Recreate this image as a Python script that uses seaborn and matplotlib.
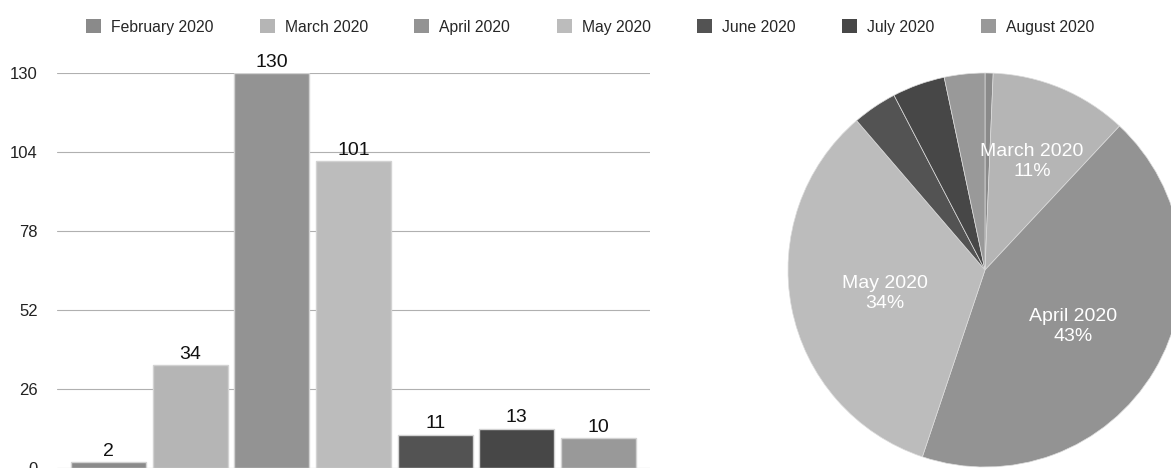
import matplotlib
matplotlib.use("Agg")
import matplotlib.pyplot as plt
from matplotlib.patches import Patch
import numpy as np
import pandas as pd
import seaborn as sns

# Monthly counts
months = ["February 2020", "March 2020", "April 2020", "May 2020",
          "June 2020", "July 2020", "August 2020"]
counts = [2, 34, 130, 101, 11, 13, 10]
colors = ["#8a8a8a", "#b5b5b5", "#939393", "#bcbcbc",
          "#535353", "#474747", "#999999"]
yticks = [0, 26, 52, 78, 104, 130]

sns.set_theme(style="white")
plt.rcParams["font.family"] = ["Liberation Sans", "DejaVu Sans"]

W, H = 1171, 468
fig = plt.figure(figsize=(W / 100, H / 100), dpi=100)

df = pd.DataFrame({"month": months, "count": counts})

# Bar chart
ax = fig.add_axes([57 / W, 0, (650 - 57) / W, (468 - 73) / H])
sns.barplot(data=df, x="month", y="count", hue="month", palette=colors,
            legend=False, width=0.92, edgecolor="#d2d2d2", linewidth=1.0,
            saturation=1, ax=ax, zorder=2)
ax.set_ylim(0, 130)
ax.set_xlim(-0.63, 6.63)
ax.set_yticks(yticks)
ax.set_yticklabels([str(t) for t in yticks], fontsize=12, color="#222222")
ax.set_xticks([])
ax.set_xlabel("")
ax.set_ylabel("")
ax.yaxis.grid(True, color="#b0b0b0", linewidth=0.8, zorder=0)
ax.set_axisbelow(True)
ax.tick_params(axis="y", length=0, pad=14)
for s in ax.spines.values():
    s.set_visible(False)
for c in ax.containers:
    ax.bar_label(c, fmt="%d", padding=1.5, fontsize=14, color="#111111",
                 clip_on=False)

# Pie chart
pax = fig.add_axes([788 / W, 1 / H, 394 / W, 394 / H])
total = sum(counts)
wedges, _, autotexts = pax.pie(
    counts, colors=colors, startangle=90, counterclock=False,
    autopct=lambda p: f"{p:.0f}%", pctdistance=0.52,
    wedgeprops=dict(edgecolor="#dcdcdc", linewidth=0.5),
    textprops=dict(color="white", fontsize=14))
dist = {"March 2020": 0.62}
for w, t, name, v in zip(wedges, autotexts, months, counts):
    share = v / total * 100
    if share < 10:
        t.set_text("")
        continue
    t.set_text(f"{name}\n{share:.0f}%")
    t.set_ha("center")
    t.set_va("center")
    t.set_linespacing(1.2)
    ang = np.deg2rad((w.theta1 + w.theta2) / 2)
    d = dist.get(name, 0.52)
    t.set_position((d * np.cos(ang), d * np.sin(ang) - 0.02))
pax.set_xlim(-1, 1)
pax.set_ylim(-1, 1)
pax.set_aspect("equal")
pax.axis("off")

# Shared legend
handles = [Patch(facecolor=c, edgecolor="none") for c in colors]
fig.legend(handles, months, loc="center", ncol=7,
           bbox_to_anchor=(590 / W, 1 - 27 / H), frameon=False,
           fontsize=11.3, handlelength=0.96, handleheight=0.96,
           handletextpad=0.64, columnspacing=2.95, borderpad=0)

fig.savefig("out.png", dpi=100)
